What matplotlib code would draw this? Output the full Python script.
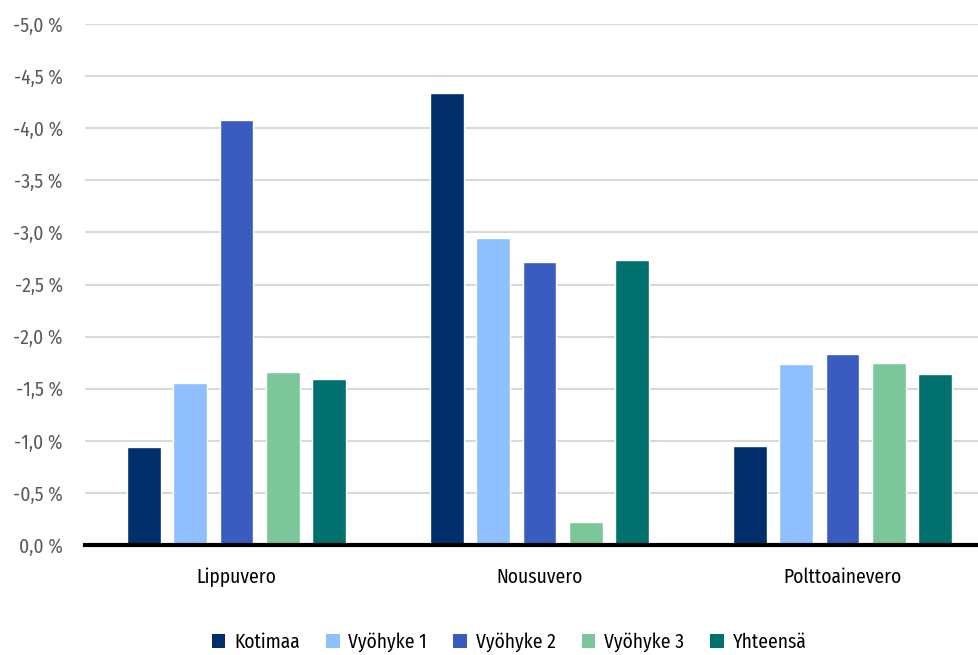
import matplotlib
matplotlib.use("Agg")
import matplotlib.pyplot as plt
from matplotlib import font_manager
import numpy as np

categories = ["Lippuvero", "Nousuvero", "Polttoainevero"]
series_names = ["Kotimaa", "Vyöhyke 1", "Vyöhyke 2", "Vyöhyke 3", "Yhteensä"]
kotimaa = [-0.94, -4.34, -0.95]
vyohyke1 = [-1.555, -2.95, -1.74]
vyohyke2 = [-4.08, -2.72, -1.83]
vyohyke3 = [-1.66, -0.22, -1.75]
yhteensa = [-1.59, -2.735, -1.64]
yticks = [0, -0.5, -1.0, -1.5, -2.0, -2.5, -3.0, -3.5, -4.0, -4.5, -5.0]
ytick_labels = ["0,0 %", "-0,5 %", "-1,0 %", "-1,5 %", "-2,0 %", "-2,5 %",
                "-3,0 %", "-3,5 %", "-4,0 %", "-4,5 %", "-5,0 %"]
colors = ["#002F6C", "#8FBFFF", "#3A5BC0", "#7CC79A", "#00716F"]

avail = {f.name for f in font_manager.fontManager.ttflist}
fam = "DejaVu Sans"
for cand in ["Fira Sans Condensed", "Roboto Condensed", "Open Sans Condensed",
             "Asap Condensed", "Archivo Narrow", "Liberation Sans Narrow"]:
    if cand in avail:
        fam = cand
        break
plt.rcParams["font.family"] = [fam, "DejaVu Sans"]

fig = plt.figure(figsize=(9.79, 6.55), dpi=100)
ax = fig.add_axes([85/979, (655-545)/655, 1 - 85/979, (545-24)/655])

values = [kotimaa, vyohyke1, vyohyke2, vyohyke3, yhteensa]
x = np.arange(len(categories))
step = 0.153
width = 0.112
for i, (name, vals, c) in enumerate(zip(series_names, values, colors)):
    ax.bar(x + (i - 2) * step, vals, width=width, color=c, label=name,
           edgecolor="white", linewidth=1.0, zorder=3)

ax.set_ylim(0, -5.0)
ax.set_xlim(-0.5, -0.5 + (979 - 85) / 303)
ax.set_yticks(yticks)
ax.set_yticklabels(ytick_labels, color="#595959", fontsize=14)
ax.set_xticks(x)
ax.set_xticklabels(categories, fontsize=14, color="#000000")
ax.tick_params(axis="both", length=0)
ax.tick_params(axis="y", pad=16)
ax.tick_params(axis="x", pad=16)
ax.yaxis.grid(True, color="#D9D9D9", linewidth=1.5, zorder=0)
ax.set_axisbelow(True)
for s in ["top", "right", "left"]:
    ax.spines[s].set_visible(False)
ax.spines["bottom"].set_color("black")
ax.spines["bottom"].set_linewidth(3)
ax.spines["bottom"].set_zorder(5)

leg = fig.legend(loc="center", bbox_to_anchor=(0.52, 1 - 642/655), ncol=5,
                 frameon=False, fontsize=14, handlelength=0.7, handleheight=0.7,
                 columnspacing=1.35, handletextpad=0.45)
for h in leg.legend_handles:
    h.set_edgecolor("none")

fig.savefig("out.png", dpi=100)
